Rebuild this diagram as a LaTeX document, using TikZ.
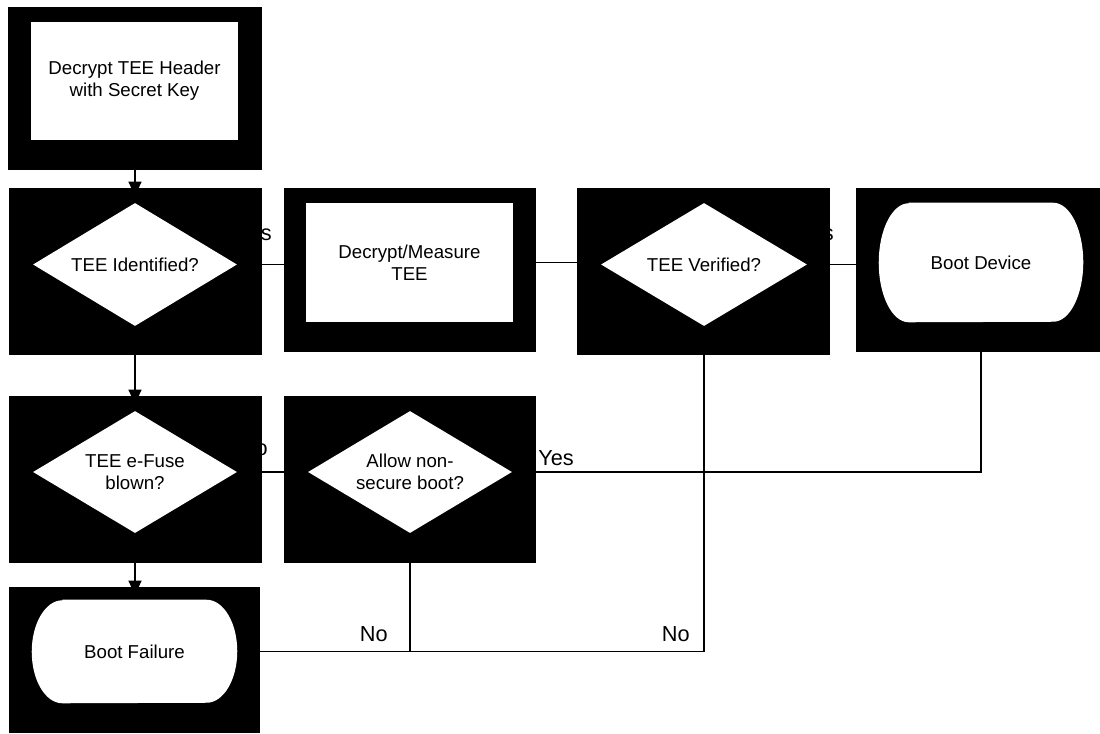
\documentclass[tikz,border=0pt]{standalone}
\usepackage{fontspec}
\setmainfont{Liberation Sans}
\usetikzlibrary{arrows.meta,shapes.geometric}
\pgfdeclarelayer{edges}
\pgfdeclarelayer{panels}
\pgfdeclarelayer{shapes}
\pgfsetlayers{edges,panels,shapes,main}
\begin{document}
\begin{tikzpicture}[x=0.75pt,y=-0.75pt,
  frame/.style 2 args={rectangle,fill=black,draw=none,inner sep=0pt,
    minimum width=#1,minimum height=#2},
  inner/.style={draw=none,inner sep=0pt,align=center,
    font=\fontsize{14}{16.5}\selectfont},
  procbox/.style 2 args={inner,fill=white,rectangle,minimum width=#1,minimum height=#2},
  decision/.style 2 args={inner,fill=white,diamond,aspect=1.67,minimum width=#1,minimum height=#2},
  terminal/.style 2 args={inner,rectangle,minimum width=#1,minimum height=#2},
  link/.style={draw=black,line width=0.9pt},
  flowarrow/.style={link,-{Triangle[width=9.75pt,length=10.5pt]}},
  branch/.style={inner sep=0pt,font=\fontsize{16.3}{19}\selectfont}
]
\useasboundingbox (0,0) rectangle (1100,733);

% dark panels behind every step
\begin{pgfonlayer}{panels}
\node[frame={190.5pt}{122.25pt}] (n1) at (135,88.5) {};
\node[frame={189.75pt}{125.25pt}] (n2) at (135.5,271.5) {};
\node[frame={189pt}{123pt}] (n3) at (410,270) {};
\node[frame={189.75pt}{125.25pt}] (n4) at (703.5,271.5) {};
\node[frame={183pt}{123pt}] (n5) at (978,270) {};
\node[frame={189.75pt}{125.25pt}] (n6) at (135.5,479.5) {};
\node[frame={189pt}{125.25pt}] (n7) at (410,479.5) {};
\node[frame={188.25pt}{109.5pt}] (n8) at (134.5,660) {};
\end{pgfonlayer}

% steps, decisions and terminals
\node[procbox={155.25pt}{88.5pt}] (r1) at (134.5,81) {Decrypt TEE Header\\with Secret Key};
\node[decision={153pt}{92.25pt}] (d2) at (135,264.5) {TEE Identified?};
\node[procbox={155.25pt}{89.25pt}] (r3) at (409.5,262.5) {Decrypt/Measure\\TEE};
\node[decision={154.5pt}{92.25pt}] (d4) at (704,264.5) {TEE Verified?};
\node[terminal={153pt}{89.25pt}] (t5) at (981,262.5) {Boot Device};
\node[decision={153pt}{91.5pt}] (d6) at (135,472) {TEE e-Fuse\\blown?};
\node[decision={153pt}{91.5pt}] (d7) at (410,472) {Allow non-\\secure boot?};
\node[terminal={153.75pt}{77.25pt}] (t8) at (134.5,651.5) {Boot Failure};

% white terminator outlines (flat top and bottom, elliptic ends)
\begin{pgfonlayer}{shapes}
  \fill[white] ([xshift=22.5pt]t5.north west) -- ([xshift=-22.5pt]t5.north east)
    arc[start angle=90,end angle=-90,x radius=22.5pt,y radius=44.625pt]
    -- ([xshift=22.5pt]t5.south west)
    arc[start angle=270,end angle=90,x radius=22.5pt,y radius=44.625pt] -- cycle;
  \fill[white] ([xshift=23pt]t8.north west) -- ([xshift=-23pt]t8.north east)
    arc[start angle=90,end angle=-90,x radius=23pt,y radius=38.625pt]
    -- ([xshift=23pt]t8.south west)
    arc[start angle=270,end angle=90,x radius=23pt,y radius=38.625pt] -- cycle;
\end{pgfonlayer}

\begin{pgfonlayer}{edges}
  \fill[white] (0,0) rectangle (1100,733);
  \draw[flowarrow] (n1.south) -- ([yshift=-6pt]n1.south |- n2.north);
  \draw[link] (d2.east) -- (d2.east -| r3.west);
  \draw[link] (r3.east) -- (r3.east -| d4.west);
  \draw[link] (d4.east) -- (d4.east -| t5.west);
  \draw[flowarrow] (d2.south |- n2.south) -- ([yshift=-6pt]d2.south |- n6.north);
  \draw[link] (d6.east) -- (d7.west);
  \draw[link] (d7.east) -| (t5.south);
  \draw[flowarrow] (d6.south |- n6.south) -- ([yshift=-6pt]d6.south |- n8.north);
  \draw[link] (d7.south) |- (t8.east);
  \draw[link] (d4.south) |- (t8.east);
  % branch labels
  \node[branch,anchor=base east] (l1) at (272,240) {Yes};
  \node[branch,anchor=base east] (l2) at (834,240) {Yes};
  \node[branch,anchor=base east] (l3) at (268,455) {No};
  \node[branch,anchor=base west] (l4) at (538,465) {Yes};
  \node[branch,anchor=base east] (l5) at (388,641) {No};
  \node[branch,anchor=base east] (l6) at (690,641) {No};
\end{pgfonlayer}
\end{tikzpicture}
\end{document}
